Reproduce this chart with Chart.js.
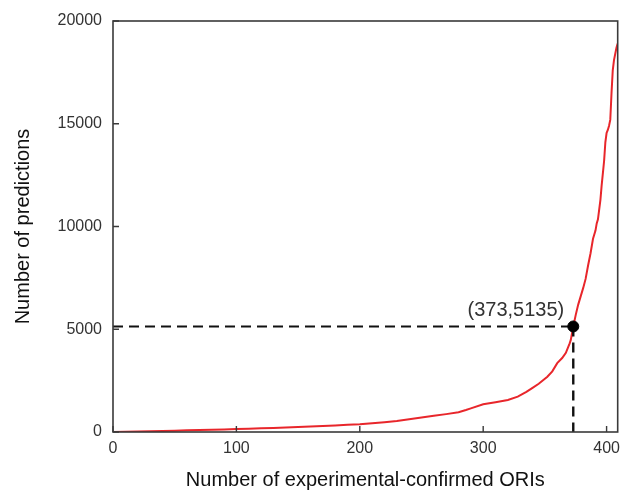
<!DOCTYPE html>
<html>
<head>
<meta charset="utf-8">
<script src="https://cdn.jsdelivr.net/npm/chart.js@4.4.1/dist/chart.umd.min.js"></script>
<style>
  html, body { margin: 0; padding: 0; background: #ffffff; overflow: hidden; }
  #wrap { width: 627px; height: 492px; }
  #c { display: block; }
</style>
</head>
<body>
<div id="wrap"><canvas id="c" width="627" height="492"></canvas></div>
<script>
// Cumulative prediction count versus confirmed ORI rank
const oriCounts = [0, 10, 20, 30, 40, 50, 60, 70, 80, 90, 100, 110, 120, 130, 140, 150, 160, 170, 180, 190,
  200, 210, 220, 230, 240, 250, 260, 270, 280, 286, 290, 300, 310, 320, 328, 335, 340, 345, 352, 356,
  360, 364, 367, 370, 371, 373, 375, 377, 379, 381, 383, 385, 387, 389, 391, 392, 393, 395, 396, 397,
  398, 399, 400, 401, 402, 403, 404, 405, 406, 407, 408, 409];
const predictionCounts = [0, 10, 20, 35, 50, 65, 80, 95, 110, 125, 140, 160, 180, 200, 220, 245, 270, 295, 320, 350,
  380, 430, 480, 540, 620, 710, 790, 870, 960, 1070, 1150, 1350, 1450, 1560, 1720, 1950, 2150, 2350, 2690, 2950,
  3350, 3600, 3850, 4300, 4480, 5135, 5700, 6200, 6600, 7000, 7450, 8100, 8700, 9400, 9800, 10150,
  10350, 11300, 12000, 12600, 13200, 14100, 14550, 14700, 14900, 15200, 16500, 17600, 18100, 18400, 18700, 18900];

// Highlighted point on the curve
const markedOri = 373;
const markedPredictions = 5135;

// Axis tick values
const xTickValues = [0, 100, 200, 300, 400];
const yTickValues = [0, 5000, 10000, 15000, 20000];

const xTitle = 'Number of experimental-confirmed ORIs';
const yTitle = 'Number of predictions';

const curvePoints = oriCounts.map((x, i) => ({ x: x, y: predictionCounts[i] }));
const textColor = '#333333';
const frameColor = '#3a3a3a';
const fontFamily = '"Liberation Sans", Arial, sans-serif';

// Frame around the plot, inward tick marks and the point annotation
const framePlugin = {
  id: 'frame',
  afterDatasetsDraw(chart) {
    const { ctx, chartArea: a, scales } = chart;
    ctx.save();
    ctx.strokeStyle = frameColor;
    ctx.lineWidth = 1.6;
    ctx.strokeRect(a.left, a.top, a.right - a.left, a.bottom - a.top);
    ctx.lineWidth = 1.4;
    ctx.beginPath();
    xTickValues.forEach(v => {
      const px = scales.x.getPixelForValue(v);
      ctx.moveTo(px, a.bottom);
      ctx.lineTo(px, a.bottom - 6);
    });
    yTickValues.forEach(v => {
      const py = scales.y.getPixelForValue(v);
      ctx.moveTo(a.left, py);
      ctx.lineTo(a.left + 6, py);
    });
    ctx.stroke();

    const mx = scales.x.getPixelForValue(markedOri);
    const my = scales.y.getPixelForValue(markedPredictions);
    ctx.fillStyle = textColor;
    ctx.font = '20px ' + fontFamily;
    ctx.textAlign = 'right';
    ctx.textBaseline = 'middle';
    ctx.fillText('(' + markedOri + ',' + markedPredictions + ')', mx - 9, my - 16);
    ctx.restore();
  }
};

new Chart(document.getElementById('c'), {
  type: 'line',
  data: {
    datasets: [
      {
        data: curvePoints,
        borderColor: '#e8262b',
        borderWidth: 2,
        pointRadius: 0,
        tension: 0,
        order: 3
      },
      {
        data: [{ x: 0, y: markedPredictions }, { x: markedOri, y: markedPredictions }],
        borderColor: '#111111',
        borderWidth: 2,
        borderDash: [10, 6],
        pointRadius: 0,
        order: 2
      },
      {
        data: [{ x: markedOri, y: markedPredictions }, { x: markedOri, y: 0 }],
        borderColor: '#111111',
        borderWidth: 2.4,
        borderDash: [10, 6],
        pointRadius: 0,
        order: 2
      },
      {
        data: [{ x: markedOri, y: markedPredictions }],
        showLine: false,
        pointRadius: 5.5,
        pointBackgroundColor: '#000000',
        pointBorderColor: '#000000',
        order: 1
      }
    ]
  },
  options: {
    responsive: false,
    animation: false,
    devicePixelRatio: 1,
    layout: { autoPadding: false, padding: { left: 0, right: 3, top: 21, bottom: 0 } },
    plugins: { legend: { display: false }, tooltip: { enabled: false } },
    scales: {
      x: {
        type: 'linear',
        min: 0,
        max: 409,
        grid: { display: false, drawTicks: false },
        border: { display: false },
        afterBuildTicks: s => { s.ticks = xTickValues.map(v => ({ value: v })); },
        afterFit: s => { s.height = 60; },
        ticks: {
          color: textColor,
          font: { family: fontFamily, size: 16 },
          padding: 7,
          maxRotation: 0,
          callback: v => String(v)
        },
        title: {
          display: true,
          text: xTitle,
          color: '#111111',
          font: { family: fontFamily, size: 20 },
          padding: { top: 0, bottom: 0 }
        }
      },
      y: {
        type: 'linear',
        min: 0,
        max: 20000,
        grid: { display: false, drawTicks: false },
        border: { display: false },
        afterBuildTicks: s => { s.ticks = yTickValues.map(v => ({ value: v })); },
        afterFit: s => { s.width = 113; },
        ticks: {
          color: textColor,
          font: { family: fontFamily, size: 16 },
          padding: 11,
          callback: v => String(v)
        },
        title: {
          display: true,
          text: yTitle,
          color: '#111111',
          font: { family: fontFamily, size: 20 },
          padding: { top: 11, bottom: 11 }
        }
      }
    }
  },
  plugins: [framePlugin]
});
</script>
</body>
</html>
